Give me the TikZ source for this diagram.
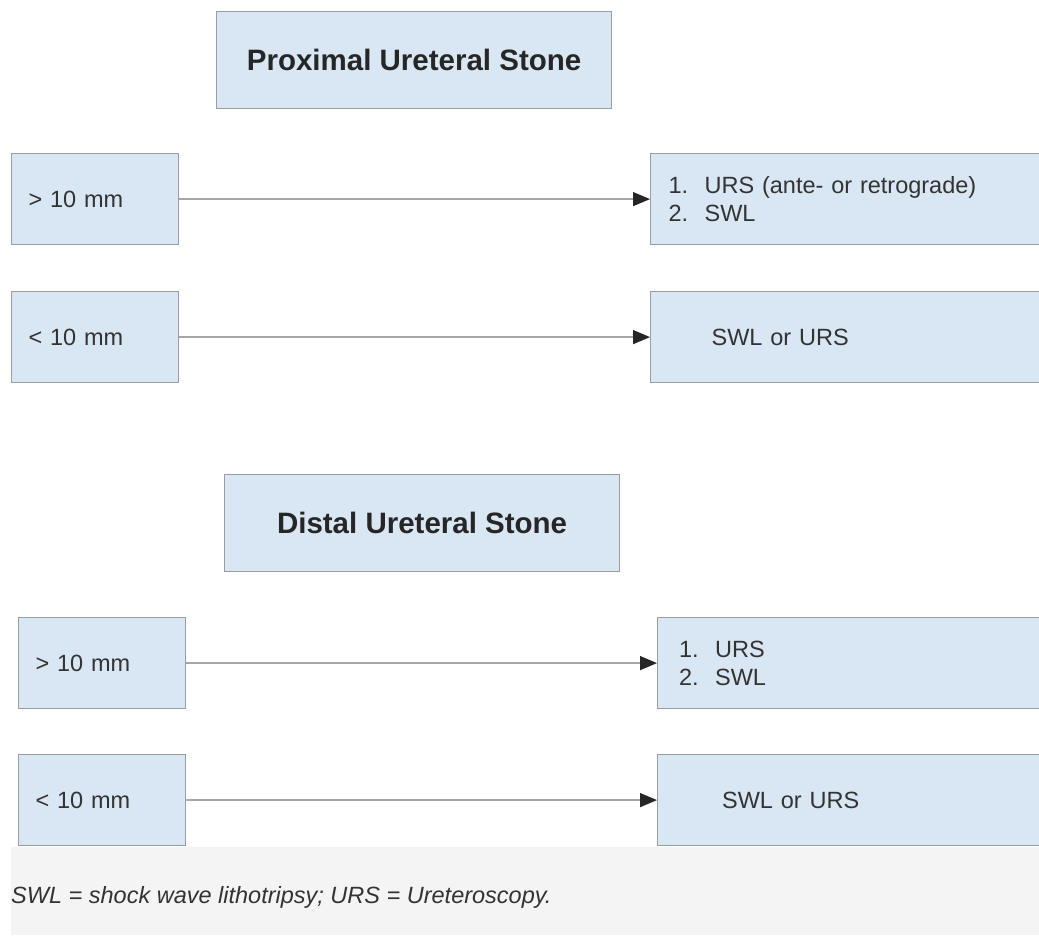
\documentclass[tikz,border=0pt]{standalone}
\usepackage{fontspec}
\setmainfont{Liberation Sans}
\usetikzlibrary{arrows.meta}
\definecolor{boxfill}{HTML}{D9E6F3}
\definecolor{boxline}{HTML}{9A9EA3}
\definecolor{txt}{HTML}{333333}
\definecolor{footbg}{HTML}{F4F4F4}
\tikzset{
  box/.style={draw=boxline, line width=1.2pt, fill=boxfill, text=txt,
    font=\fontsize{23.5}{28}\selectfont, align=left, anchor=north west,
    inner ysep=0pt},
  leftbox/.style={box, minimum width=167, minimum height=91, text width=133, inner xsep=17},
  rightbox/.style={box, minimum width=389, minimum height=91},
  titlebox/.style={box, minimum width=395, minimum height=97, align=center,
    font=\fontsize{29.5}{34}\selectfont\bfseries, text=black!85},
  conn/.style={draw=black!35, line width=1.3pt, -{Triangle[length=17pt,width=14pt,fill=black!85,color=black!85]}},
}
\begin{document}
\begin{tikzpicture}[x=1pt,y=-1pt]
\useasboundingbox (0,0) rectangle (1039,939);
\fill[footbg] (11,847) rectangle (1039,935);
\node[titlebox] (t1) at (216,11) {Proximal Ureteral Stone};
\node[leftbox] (a1) at (11,153) {> 10 mm};
\node[rightbox, text width=353, inner xsep=18] (b1) at (650,153) {1.\hspace{0.7em}URS (ante- or retrograde)\\2.\hspace{0.7em}SWL};
\node[leftbox] (a2) at (11,291) {< 10 mm};
\node[rightbox, text width=267, inner xsep=61] (b2) at (650,291) {SWL or URS};
\node[titlebox] (t2) at (224,474) {Distal Ureteral Stone};
\node[leftbox] (a3) at (18,617) {> 10 mm};
\node[rightbox, text width=346, inner xsep=18] (b3) at (657,617) {1.\hspace{0.7em}URS\\2.\hspace{0.7em}SWL};
\node[leftbox] (a4) at (18,754) {< 10 mm};
\node[rightbox, text width=260, inner xsep=61] (b4) at (657,754) {SWL or URS};
\draw[conn] (a1.east) -- (b1.west);
\draw[conn] (a2.east) -- (b2.west);
\draw[conn] (a3.east) -- (b3.west);
\draw[conn] (a4.east) -- (b4.west);
\node[anchor=west, inner sep=0pt, text=txt, font=\fontsize{23.5}{28}\selectfont\itshape] (foot) at (11,897) {SWL = shock wave lithotripsy; URS = Ureteroscopy.};
\end{tikzpicture}
\end{document}
